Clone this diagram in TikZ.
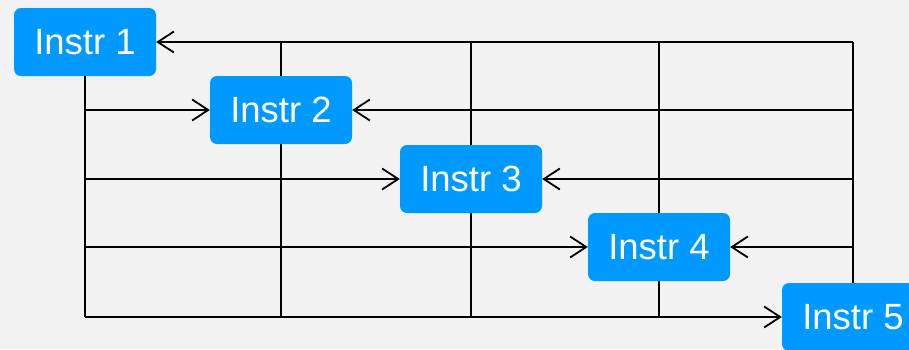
\documentclass[tikz,border=0pt]{standalone}
\usepackage{fontspec}
\setmainfont{Liberation Sans}
\usetikzlibrary{arrows.meta}
\definecolor{bgc}{HTML}{F2F2F2}
\definecolor{boxc}{HTML}{0099FF}
\tikzset{
  instr/.style={fill=boxc, rounded corners=7pt, minimum width=142pt, minimum height=68pt,
    inner sep=0pt, text=white, font=\fontsize{36.5}{40}\selectfont},
  grid/.style={line width=1.8pt, black},
  arr/.style={line width=1.8pt, black, -{Straight Barb[length=16pt,width=21pt,line width=1.8pt]}}
}
\begin{document}
\begin{tikzpicture}[x=1pt,y=-1pt]
\fill[bgc] (0,0) rectangle (909,349);
\useasboundingbox (0,0) rectangle (909,349);
\clip (0,0) rectangle (909,349);
% grid coordinates
\foreach \c/\x in {A/85,B/281,C/471,D/659,E/853}{
  \foreach \r/\y in {1/42,2/110,3/179,4/247,5/317}{
    \coordinate (\c\r) at (\x,\y);
  }
}
% vertical lines (behind boxes)
\draw[grid] (B1) -- (B5);
\draw[grid] (C1) -- (C5);
\draw[grid] (D1) -- (D5);
% nodes
\node[instr] (i1) at (A1) {Instr 1};
\node[instr] (i2) at (B2) {Instr 2};
\node[instr] (i3) at (C3) {Instr 3};
\node[instr] (i4) at (D4) {Instr 4};
\node[instr] (i5) at (E5) {Instr 5};
\draw[grid] (i1.south) -- (A5);
\draw[grid] (E1) -- (i5.north);
% arrows
\draw[arr] (E1) -- (i1.east);
\draw[arr] (A2) -- (i2.west);
\draw[arr] (E2) -- (i2.east);
\draw[arr] (A3) -- (i3.west);
\draw[arr] (E3) -- (i3.east);
\draw[arr] (A4) -- (i4.west);
\draw[arr] (E4) -- (i4.east);
\draw[arr] (A5) -- (i5.west);
\end{tikzpicture}
\end{document}
